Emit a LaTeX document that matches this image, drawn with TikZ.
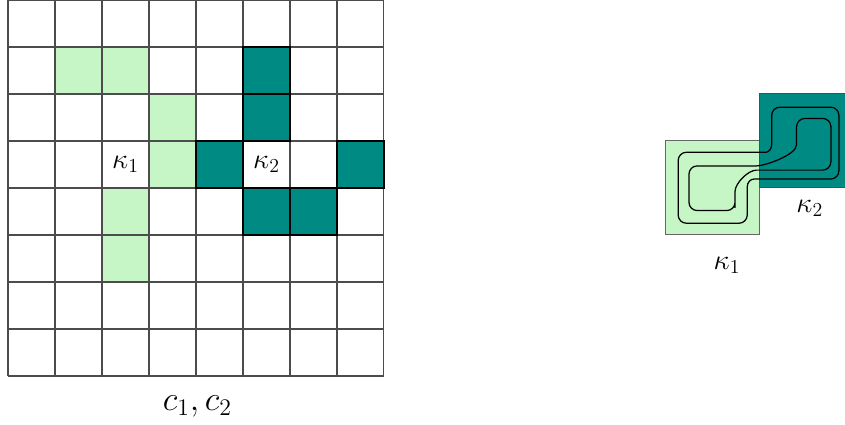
\documentclass[tikz,border=0pt]{standalone}
\usepackage{amsmath}
\usepackage{tikz}
\usetikzlibrary{positioning}
\definecolor{kappalight}{RGB}{198,245,198}
\definecolor{kappadark}{RGB}{0,138,132}

\begin{document}
\begin{tikzpicture}[
    gridline/.style={draw=black!70, line width=0.65pt},
    lightcell/.style={fill=kappalight},
    darkcell/.style={fill=kappadark},
    darkedge/.style={draw=black, line width=0.8pt},
    loopline/.style={draw=black, line width=0.75pt, rounded corners=5pt},
    lbl/.style={inner sep=1pt, font=\LARGE}]

    \useasboundingbox (-0.17,-1.043) rectangle (17.81,8.0);

    % Left: 8x8 grid with the cells of kappa_1 and kappa_2
    \foreach \x/\y in {1/6, 2/6, 3/5, 3/4, 2/3, 2/2}
        \fill[lightcell] (\x,\y) rectangle ++(1,1);
    \foreach \x/\y in {5/6, 5/5, 4/4, 7/4, 5/3, 6/3}
        \fill[darkcell] (\x,\y) rectangle ++(1,1);
    \draw[gridline] (0,0) grid (8,8);
    % darker edges round the teal cells
    \foreach \x/\y in {5/6, 5/5, 4/4, 7/4, 5/3, 6/3}
        \draw[darkedge] (\x,\y) rectangle ++(1,1);

    \node[lbl] (kone) at (2.5,4.5) {$\kappa_1$};
    \node[lbl] (ktwo) at (5.5,4.5) {$\kappa_2$};
    \node[inner sep=1pt, font=\huge] (cpair) at (4.03,-0.65) {$c_1, c_2$};

    % Right: the two cells and the two loops running through both
    \draw[lightcell, draw=black!60, line width=0.6pt] (14,3) rectangle (16,5);
    \draw[darkcell, draw=black!70, line width=0.6pt] (16,4) rectangle (18,6);

    % outer loop
    \draw[loopline] (14.26,4.0) -- (14.26,3.25) -- (15.73,3.25) -- (15.73,3.85)
        .. controls (15.73,4.12) and (15.8,4.19) .. (16.05,4.19)
        -- (17.68,4.19) -- (17.68,5.72) -- (16.25,5.72) -- (16.25,5.1)
        .. controls (16.25,4.85) and (16.2,4.76) .. (15.95,4.76)
        -- (14.26,4.76) -- cycle;
    % inner loop
    \draw[loopline] (14.49,4.0) -- (14.49,4.47) -- (15.75,4.47)
        .. controls (16.1,4.47) and (16.78,4.7) .. (16.78,5.1)
        -- (16.78,5.48) -- (17.51,5.48) -- (17.51,4.38) -- (16.1,4.38)
        .. controls (15.75,4.38) and (15.47,4.1) .. (15.47,3.75)
        -- (15.47,3.52) -- (14.49,3.52) -- cycle;

    \node[lbl] (konebis) at (15.3,2.35) {$\kappa_1$};
    \node[lbl] (ktwobis) at (17.06,3.57) {$\kappa_2$};

\end{tikzpicture}
\end{document}
